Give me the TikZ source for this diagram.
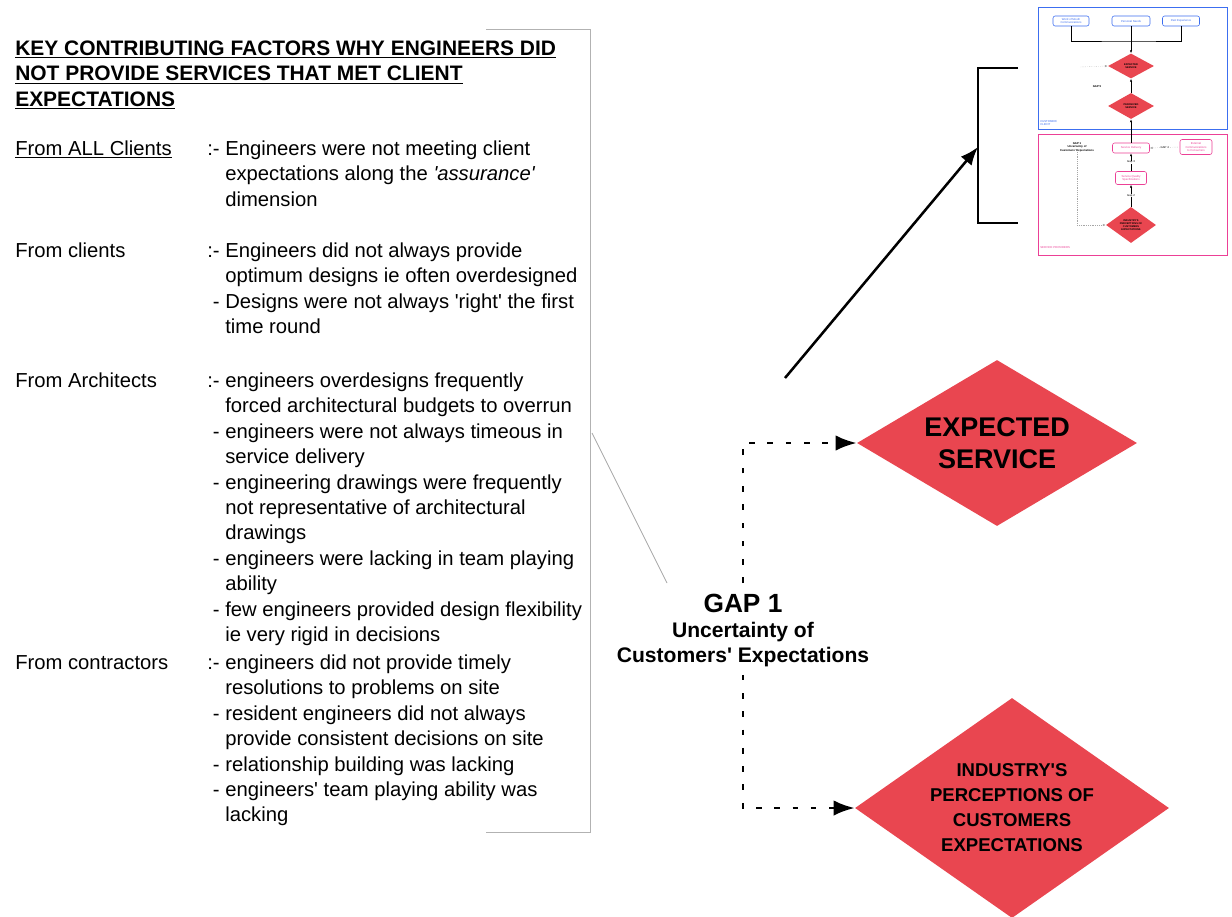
\documentclass[tikz,border=0pt]{standalone}
\usepackage{fontspec}
\setmainfont{Liberation Sans}[Ligatures=TeXOff]
\usepackage{xcolor}
\usetikzlibrary{arrows.meta}
\usetikzlibrary{shapes.geometric}
\definecolor{gapred}{RGB}{233,70,80}
\definecolor{custblue}{RGB}{60,110,240}
\definecolor{provpink}{RGB}{236,64,150}

\begin{document}
\begin{tikzpicture}[
  x=0.25mm, y=-0.25mm,
  every node/.style={inner sep=0pt},
  lab/.style={anchor=base west, font=\fontsize{14.4}{18.1}\selectfont},
  head/.style={anchor=base west, font=\bfseries\fontsize{14.9}{18.1}\selectfont},
  diam/.style={diamond, fill=gapred, align=center},
  dsh/.style={line width=2pt, dash pattern=on 4pt off 9pt, -{Latex[length=15pt,width=11pt]}},
  bigarr/.style={line width=1.8pt, -{Latex[length=13pt,width=10pt]}},
  tsmall/.style={font=\fontsize{2}{2.4}\selectfont, align=center},
  tbox/.style={draw, rounded corners=1.5pt, line width=0.4pt, fill=white, minimum height=2.5mm,
               align=center, inner sep=0.3pt, font=\fontsize{2}{2.4}\selectfont},
  tdiam/.style={diamond, fill=gapred, align=center, font=\bfseries\fontsize{1.8}{2.1}\selectfont},
  tarr/.style={-{Latex[length=2pt,width=1.6pt]}},
  tdot/.style={gray!70, line width=0.3pt, densely dotted}
]
\fill[white] (0,0) rectangle (1232,916);
\useasboundingbox (0,0) rectangle (1232,916);

% list of factors
\draw[gray!60, line width=0.6pt] (486,29) -- (590,29) -- (590,832) -- (486,832);
\node[head] (title) at (15,55.3) {\begin{tabular}[t]{@{}l@{}}
  \underline{KEY CONTRIBUTING FACTORS WHY ENGINEERS DID}\\
  \underline{NOT PROVIDE SERVICES THAT MET CLIENT}\\
  \underline{EXPECTATIONS}\end{tabular}};

\node[lab] (lall) at (15,155.3) {\underline{From ALL Clients}};
\node[lab] (tall) at (225,155.3) {\begin{tabular}[t]{@{}l@{}}
  \llap{:- }Engineers were not meeting client\\
  expectations along the \textit{'assurance'}\\
  dimension\end{tabular}};

\node[lab] (lcli) at (15,257.3) {From clients};
\node[lab] (tcli) at (225,257.3) {\begin{tabular}[t]{@{}l@{}}
  \llap{:- }Engineers did not always provide\\
  optimum designs ie often overdesigned\\
  \llap{- }Designs were not always 'right' the first\\
  time round\end{tabular}};

\node[lab] (larc) at (15,387.3) {From Architects};
\node[lab] (tarc) at (225,387.3) {\begin{tabular}[t]{@{}l@{}}
  \llap{:- }engineers overdesigns frequently\\
  forced architectural budgets to overrun\\
  \llap{- }engineers were not always timeous in\\
  service delivery\\
  \llap{- }engineering drawings were frequently\\
  not representative of architectural\\
  drawings\\
  \llap{- }engineers were lacking in team playing\\
  ability\\
  \llap{- }few engineers provided design flexibility\\
  ie very rigid in decisions\end{tabular}};

\node[lab] (lcon) at (15,669.3) {From contractors};
\node[lab] (tcon) at (225,669.3) {\begin{tabular}[t]{@{}l@{}}
  \llap{:- }engineers did not provide timely\\
  resolutions to problems on site\\
  \llap{- }resident engineers did not always\\
  provide consistent decisions on site\\
  \llap{- }relationship building was lacking\\
  \llap{- }engineers' team playing ability was\\
  lacking\end{tabular}};

% gap 1 and the two diamonds
\node[font=\bfseries\fontsize{18.7}{22}\selectfont, inner ysep=2.6mm] (gapt) at (743,603) {GAP 1};
\node[font=\bfseries\fontsize{15}{17.8}\selectfont, align=center, inner ysep=1.8mm] (gaps) at (743,645)
  {Uncertainty of\\Customers' Expectations};
\coordinate (callout) at (592,433);
\coordinate (calltip) at (667,583);
\draw[gray!70, line width=0.5pt] (callout) -- (calltip);

\node[diam, shape aspect=1.69, minimum width=70mm, minimum height=41.5mm,
      font=\bfseries\fontsize{19.2}{22.8}\selectfont] (exp) at (997,443) {EXPECTED\\SERVICE};
\node[diam, shape aspect=1.43, minimum width=78.5mm, minimum height=55mm,
      font=\bfseries\fontsize{13.2}{17.8}\selectfont] (ind) at (1012,808)
  {INDUSTRY'S\\PERCEPTIONS OF\\CUSTOMERS\\EXPECTATIONS};
\draw[dsh] (gapt.north) |- (exp.west);
\draw[dsh] (gaps.south) |- (ind.west);

% pointer to the small model
\coordinate (brk) at (978,147);
\draw[line width=1.4pt] (1018,68) -- (978,68) -- (978,223) -- (1018,223);
\coordinate (arrstart) at (785,378);
\draw[bigarr] (arrstart) -- (brk);

% small copy of the gap model
\draw[custblue, line width=0.6pt] (1038,7) rectangle (1227,129);
\draw[provpink, line width=0.6pt] (1038,134) rectangle (1227,255);
\node[tbox, draw=custblue, text=custblue, minimum width=9mm] (twm) at (1071,21) {Word of Mouth\\Communications};
\node[tbox, draw=custblue, text=custblue, minimum width=9.5mm] (tpn) at (1131,21) {Personal Needs};
\node[tbox, draw=custblue, text=custblue, minimum width=9.25mm] (tpe) at (1181,21) {Past Experience};
\node[tdiam, minimum width=11.5mm, minimum height=6.25mm] (tes) at (1131,66) {EXPECTED\\SERVICE};
\node[tdiam, minimum width=11.5mm, minimum height=6.5mm] (tps) at (1131,106) {PERCEIVED\\SERVICE};
\coordinate (tjoin) at (1131,41);
\draw[line width=0.4pt] (twm.south) |- (tjoin) -| (tpe.south);
\draw[line width=0.4pt, tarr] (tpn.south) -- (tes.north);
\draw[line width=0.4pt, tarr] (tps.north) -- (tes.south);
\coordinate (tg5) at (1080,67);
\draw[tdot, tarr] (tg5) -- (tes.west);
\node[tsmall, font=\bfseries\fontsize{2}{2.4}\selectfont] (tg5l) at (1097,87) {GAP 5};
\node[tsmall, text=custblue, anchor=west, align=left] (tcust) at (1040,123) {CUSTOMER/\\CLIENT};

\node[tsmall, font=\bfseries\fontsize{2}{2.4}\selectfont] (tg1) at (1077,147)
  {GAP 1\\Uncertainty of\\Customers' Expectations};
\node[tbox, draw=provpink, text=provpink, minimum width=9.25mm] (tsd) at (1131,148) {Service Delivery};
\node[tbox, draw=provpink, text=provpink, minimum width=8mm, minimum height=3.75mm] (tec) at (1196,147)
  {External\\Communications\\to Consumers};
\node[tbox, draw=provpink, text=provpink, minimum width=7.75mm, minimum height=3.25mm] (tsq) at (1131,178)
  {Service Quality\\Specifications};
\node[tdiam, minimum width=12.5mm, minimum height=9mm] (tid) at (1131,225)
  {INDUSTRY'S\\PERCEPTIONS OF\\CUSTOMERS\\EXPECTATIONS};
\draw[line width=0.4pt, tarr] (tsd.north) -- (tps.south);
\draw[tdot, tarr] (tec.west) -- (tsd.east) node[midway, fill=white, tsmall, text=black] {GAP 4};
\draw[line width=0.4pt, tarr] (tsq.north) -- (tsd.south) node[midway, fill=white, tsmall] {Gap 3};
\draw[line width=0.4pt, tarr] (tid.north) -- (tsq.south) node[midway, fill=white, tsmall] {Gap 2};
\draw[tdot, tarr] (tg1.south) |- (tid.west);
\node[tsmall, text=provpink, anchor=west] (tsp) at (1040,248) {SERVICE PROVIDERS};
\end{tikzpicture}
\end{document}
